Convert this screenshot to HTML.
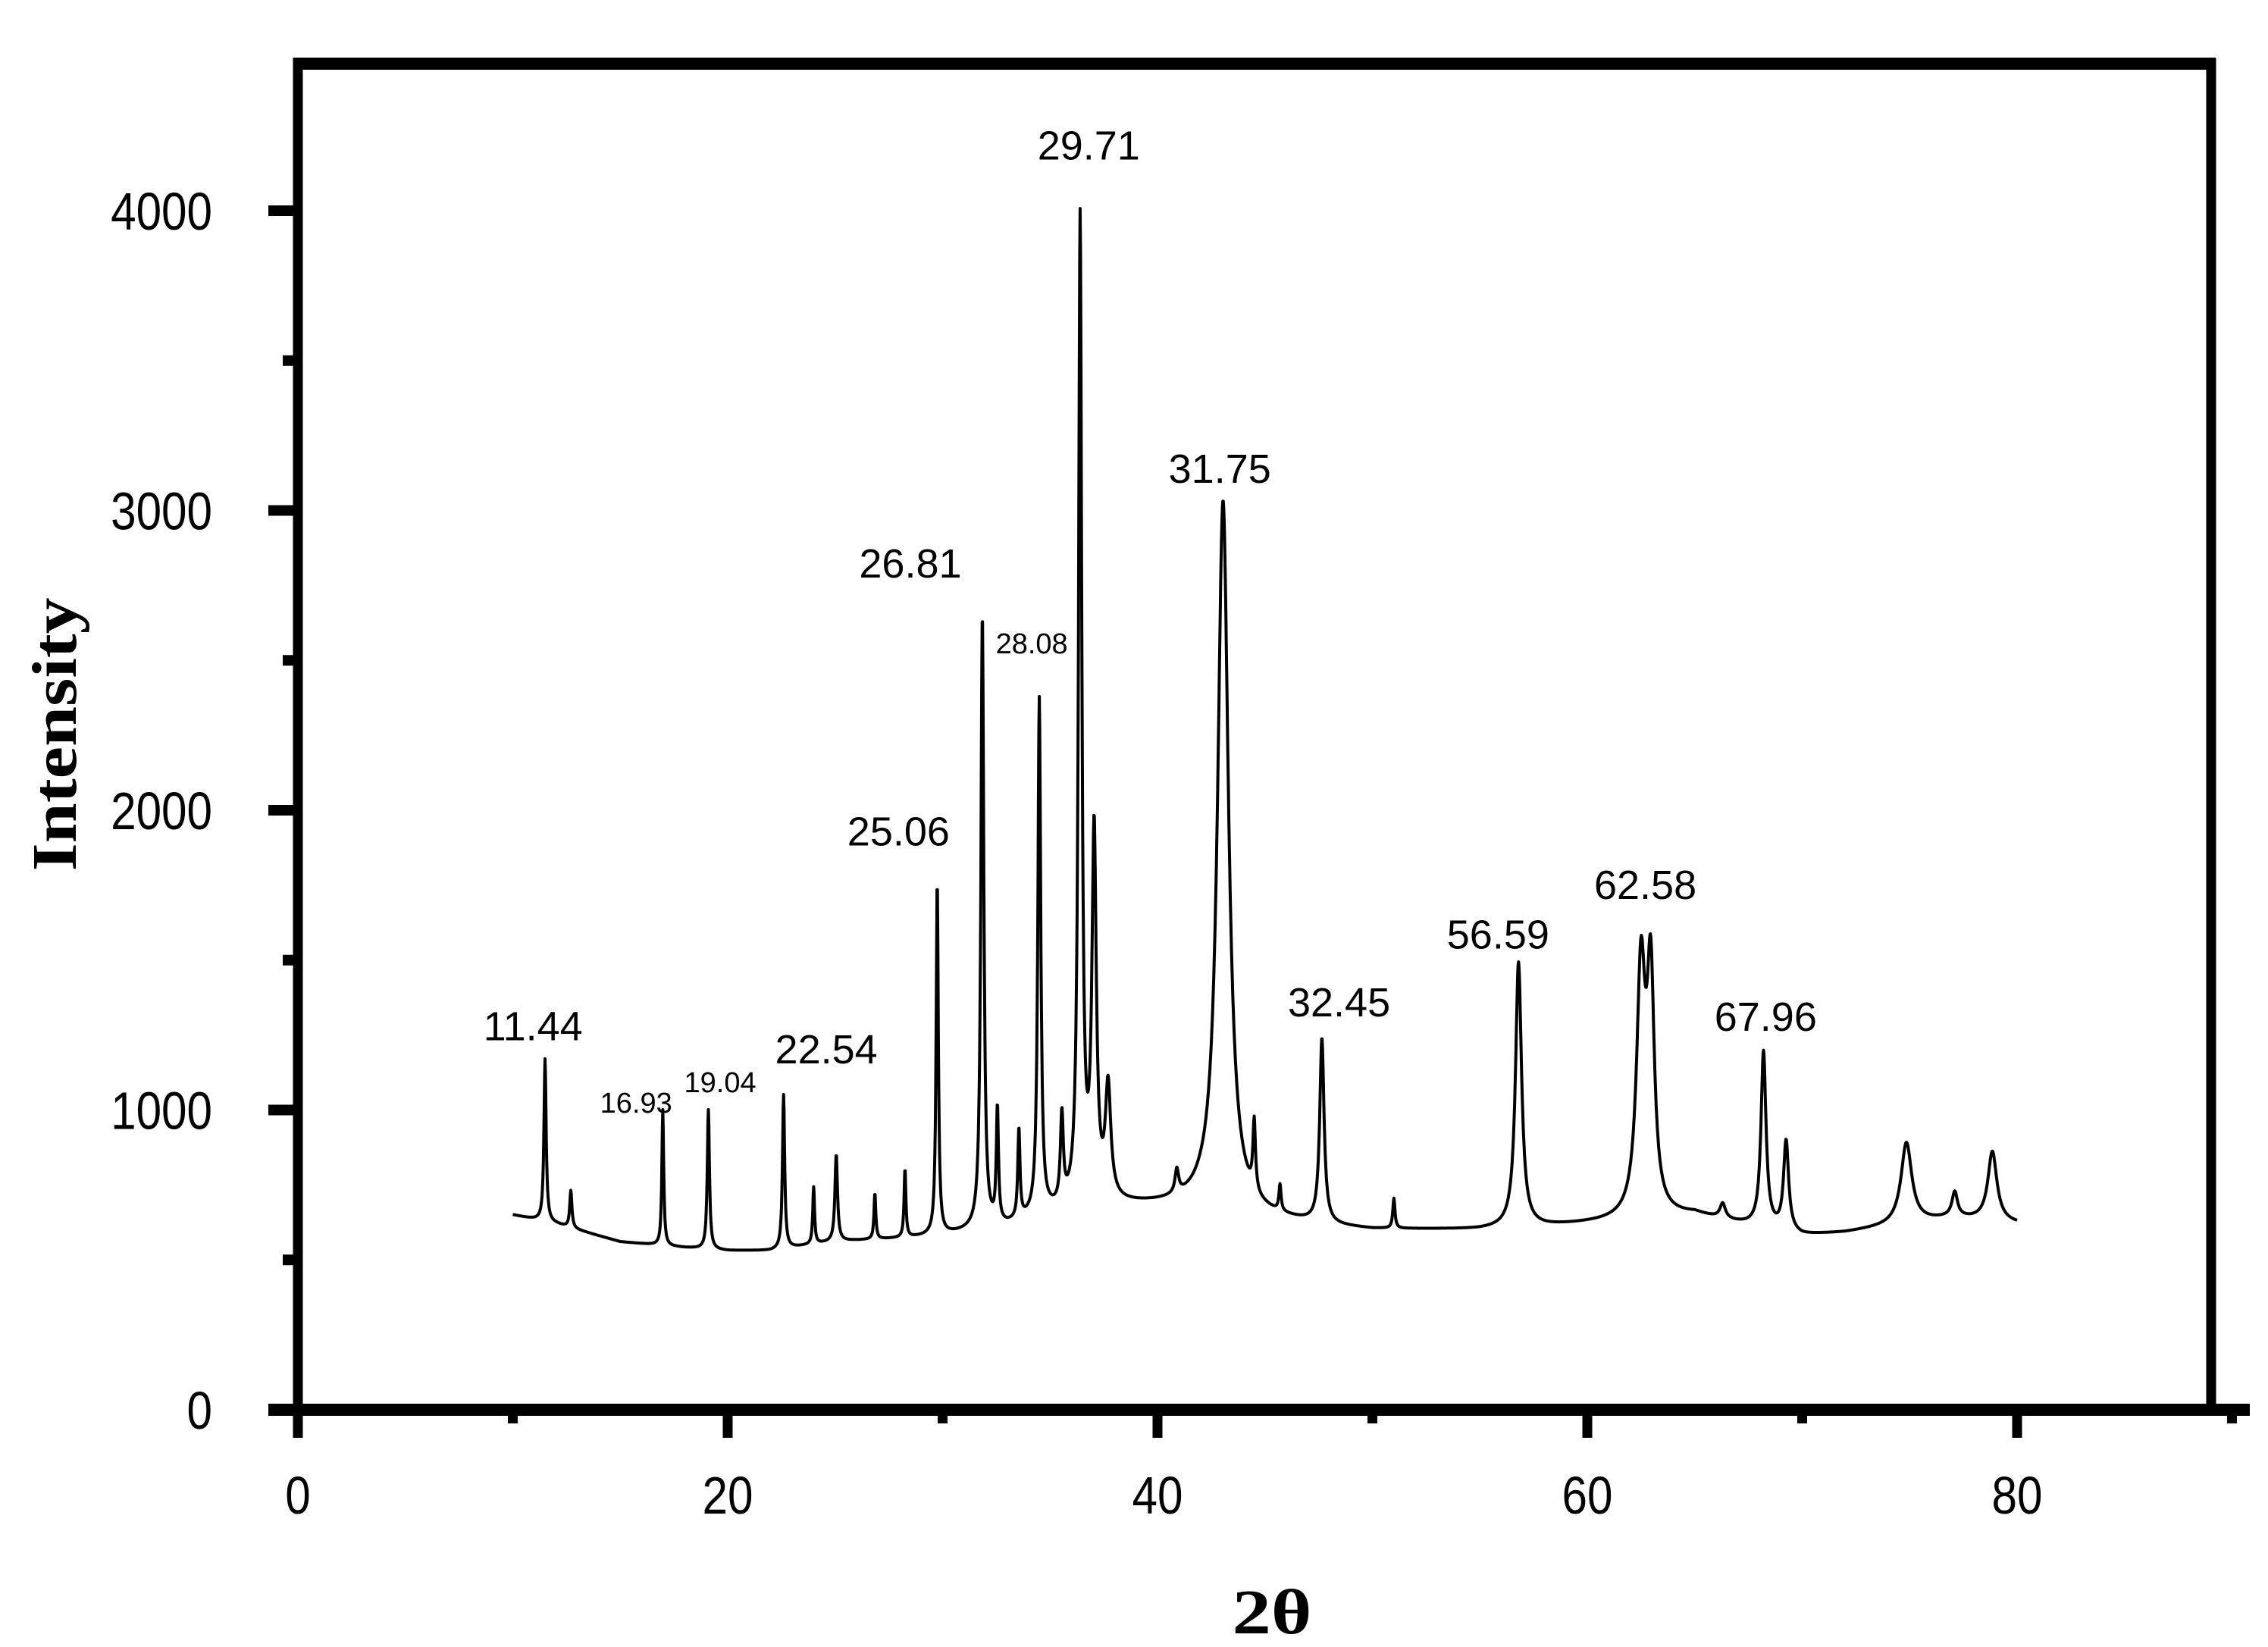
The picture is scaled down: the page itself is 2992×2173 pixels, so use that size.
<!DOCTYPE html>
<html><head><meta charset="utf-8"><style>
html,body{margin:0;padding:0;background:#fff;}
svg{display:block;}
text{font-family:"Liberation Sans",sans-serif;fill:#000;}
</style></head><body>
<svg id="chart" width="2992" height="2173" viewBox="0 0 2992 2173" xmlns="http://www.w3.org/2000/svg">
<g id="axes"></g>
<g id="plot"></g>
<g id="labels"></g>
<text x="0" y="0" transform="translate(100,969) rotate(-90)" text-anchor="middle" style="font-family:'Liberation Serif',serif;font-weight:bold;font-size:84px" textLength="361" lengthAdjust="spacingAndGlyphs">Intensity</text>
<text x="1678" y="2155" text-anchor="middle" style="font-family:'Liberation Serif',serif;font-weight:bold;font-size:84px" textLength="105" lengthAdjust="spacingAndGlyphs">2θ</text>
</svg>
<script>
const xTicks=[0,20,40,60,80];
const xMinor=[10,30,50,70,90];
const yTicks=[0,1000,2000,3000,4000];
const yMinor=[500,1500,2500,3500];
const baseX=[10,12,15,18,20,22,25,28,30,33,35,38,40,42,45,48,50,53,55,58,60,62,65,67,70,72,75,77,80];
const baseY=[650,620,560,540,530,530,560,570,580,610,650,680,680,680,640,610,600,600,600,610,620,630,650,620,580,590,620,640,620];
const peakPos=[11.5,12.7,16.98,19.1,22.6,24.0,25.05,26.85,28.25,29.75,31.85,32.55,33.55,34.5,35.55,36.4,37.05,37.7,40.9,43.05,44.5,45.7,47.65,51.0,56.8,62.5,62.95,66.3,68.2,69.25,74.85,77.1,78.85];
const peakTop=[1170,730,1000,1000,1050,740,850,720,800,1760,2650,990,920,2360,950,3950,1900,1050,760,3030,880,720,1230,700,1490,1450,1400,680,1190,890,890,720,860];
const peakW=[0.06,0.06,0.05,0.06,0.06,0.05,0.07,0.05,0.05,0.06,0.08,0.06,0.06,0.08,0.08,0.09,0.12,0.15,0.1,0.3,0.07,0.06,0.12,0.06,0.17,0.24,0.2,0.15,0.14,0.14,0.3,0.15,0.25];
const peakLabels=["11.44","16.93","19.04","22.54","25.06","26.81","28.08","29.71","31.75","32.45","56.59","62.58","67.96"];
const labelXPos=[10.94,15.74,19.65,24.59,27.95,28.5,34.15,36.8,42.9,48.45,55.85,62.7,68.3];
const labelY=[1269,1016,1085,1191,1919,2812,2549,4207,3128,1348,1575,1740,1300];
const labelSmall=[0,1,1,0,0,0,1,0,0,0,0,0,0];

const NS="http://www.w3.org/2000/svg";
const X0=393,XS=28.35,Y0=1860,YS=0.3955;
const xs=v=>X0+v*XS, ys=v=>Y0-v*YS;
function mk(tag,attrs,parent){const e=document.createElementNS(NS,tag);for(const k in attrs)e.setAttribute(k,attrs[k]);parent.appendChild(e);return e;}
const axes=document.getElementById('axes');
let e;
e=mk('line',{x1:354,y1:Y0,x2:2968,y2:Y0,stroke:'#000','stroke-width':16},axes);

e=mk('line',{x1:X0,y1:76,x2:X0,y2:Y0,stroke:'#000','stroke-width':13},axes);

e=mk('line',{x1:X0-6,y1:84,x2:2923,y2:84,stroke:'#000','stroke-width':16},axes);

e=mk('line',{x1:2917,y1:77,x2:2917,y2:Y0,stroke:'#000','stroke-width':13},axes);

xTicks.forEach(v=>{
 e=mk('line',{x1:xs(v),y1:Y0,x2:xs(v),y2:Y0+37,stroke:'#000','stroke-width':13},axes);
 
 e=mk('text',{x:xs(v),y:1997,'text-anchor':'middle','font-size':70,transform:`translate(${xs(v)},0) scale(0.86,1) translate(${-xs(v)},0)`},axes);
 e.textContent=v;
 
});
xMinor.forEach(v=>{
 e=mk('line',{x1:xs(v),y1:Y0,x2:xs(v),y2:Y0+18,stroke:'#000','stroke-width':13},axes);
 
});
yTicks.forEach(v=>{
 e=mk('line',{x1:354,y1:ys(v),x2:X0,y2:ys(v),stroke:'#000','stroke-width':14},axes);
 
 e=mk('text',{x:280,y:ys(v)+25,'text-anchor':'end','font-size':70,transform:`translate(280,0) scale(0.86,1) translate(-280,0)`},axes);
 e.textContent=v;
 
});
yMinor.forEach(v=>{
 e=mk('line',{x1:373,y1:ys(v),x2:X0,y2:ys(v),stroke:'#000','stroke-width':14},axes);
 
});
function base(x){for(let i=0;i<baseX.length-1;i++){if(x<=baseX[i+1]){const t=(x-baseX[i])/(baseX[i+1]-baseX[i]);return baseY[i]+t*(baseY[i+1]-baseY[i]);}}return baseY[baseY.length-1];}
const amp=peakPos.map((p,i)=>peakTop[i]-base(p));
let d='';
for(let x=10;x<=80.0001;x+=0.02){
 let y=base(x);
 for(let i=0;i<peakPos.length;i++){const u=(x-peakPos[i])/peakW[i];y+=amp[i]/(1+u*u);}
 d+=(d?'L':'M')+xs(x).toFixed(1)+' '+ys(y).toFixed(1);
}
e=mk('path',{d:d,fill:'none',stroke:'#000','stroke-width':4,'stroke-linejoin':'round'},document.getElementById('plot'));

const lab=document.getElementById('labels');
peakLabels.forEach((t,i)=>{
 e=mk('text',{x:xs(labelXPos[i]),y:ys(labelY[i]),'text-anchor':'middle','dominant-baseline':'middle','font-size':labelSmall[i]?38:54},lab);
 e.textContent=t;
 
});
</script>
</body></html>
